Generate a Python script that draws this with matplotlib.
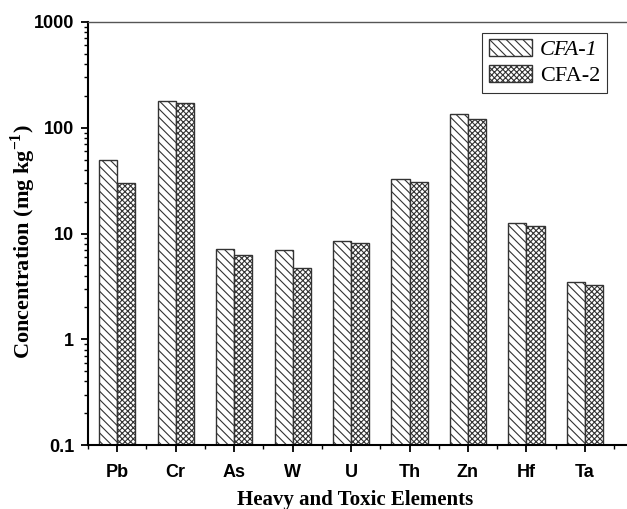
import matplotlib
matplotlib.use("Agg")
import matplotlib.pyplot as plt
import numpy as np
from matplotlib.ticker import LogLocator, FixedLocator, NullFormatter

elements = ["Pb", "Cr", "As", "W", "U", "Th", "Zn", "Hf", "Ta"]
cfa1 = [49.5, 180, 7.0, 6.9, 8.4, 32.7, 135, 12.6, 3.4]
cfa2 = [30, 170, 6.2, 4.6, 8.1, 30.7, 120, 11.8, 3.15]

plt.rcParams['hatch.linewidth'] = 0.8
plt.rcParams['hatch.color'] = 'black'
plt.rcParams['mathtext.fontset'] = 'custom'
plt.rcParams['mathtext.rm'] = 'Liberation Serif'
plt.rcParams['mathtext.bf'] = 'Liberation Serif:bold'

fig = plt.figure(figsize=(6.27, 5.09), dpi=100)
ax = fig.add_axes([0.1404, 0.1257, 0.8596, 0.8311])

x = np.arange(1, len(elements) + 1)
w = 0.31
ax.bar(x - w / 2, cfa1, width=w, bottom=0.1, facecolor='white', edgecolor='#333333',
       linewidth=1.0, hatch='\\\\\\\\', label='CFA-1')
ax.bar(x + w / 2, cfa2, width=w, bottom=0.1, facecolor='white', edgecolor='#333333',
       linewidth=1.0, hatch='xxxxxx', label='CFA-2')

ax.set_yscale('log')
ax.set_ylim(0.1, 1000)
ax.set_xlim(0.5, 9.72)

ax.set_yticks([0.1, 1, 10, 100, 1000])
ax.set_yticklabels(["0.1", "1", "10", "100", "1000"])
ax.yaxis.set_minor_locator(LogLocator(base=10, subs=np.arange(2, 10)))
ax.yaxis.set_minor_formatter(NullFormatter())

ax.set_xticks(x)
ax.set_xticklabels(elements)
ax.xaxis.set_minor_locator(FixedLocator(np.arange(0.5, 10, 1.0)))

for lab in ax.get_xticklabels() + ax.get_yticklabels():
    lab.set_fontfamily('Liberation Sans')
    lab.set_fontweight('bold')
    lab.set_fontsize(13)

ax.tick_params(axis='both', which='major', direction='out', length=5, width=1.3, pad=5)
ax.tick_params(axis='both', which='minor', direction='out', length=3, width=1.0)
ax.tick_params(axis='x', which='major', pad=9)

ax.spines['right'].set_visible(False)
ax.spines['top'].set_color('#555555')
ax.spines['top'].set_linewidth(1.0)
ax.spines['left'].set_linewidth(1.5)
ax.spines['bottom'].set_linewidth(1.5)

ax.set_ylabel("Concentration (mg kg$^{\\mathbf{-1}}$)", family='Liberation Serif',
              weight='bold', fontsize=16)
ax.yaxis.set_label_coords(-0.093, 0.48)
ax.set_xlabel("Heavy and Toxic Elements", family='Liberation Serif',
              weight='bold', fontsize=15)
ax.xaxis.set_label_coords(0.495, -0.107)

leg = ax.legend(loc='upper right', bbox_to_anchor=(0.963, 0.975), frameon=True,
                fancybox=False, edgecolor='black', prop={'family': 'Liberation Serif', 'size': 16},
                handlelength=1.95, handleheight=0.8, borderpad=0.3, labelspacing=0.2,
                handletextpad=0.35, borderaxespad=0.0)
leg.get_frame().set_linewidth(0.8)
leg.get_texts()[0].set_fontstyle('italic')

fig.savefig("out.png", dpi=100)
